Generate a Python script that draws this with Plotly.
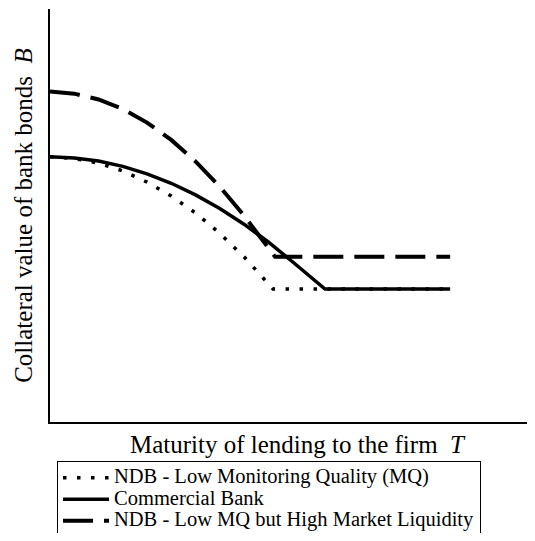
import plotly.graph_objects as go

# Data (arbitrary units)
x_dotted = [0, 0.5, 1, 1.5, 2, 2.5, 3, 3.5, 4, 4.5, 4.6, 8.25]
y_dotted = [6.42, 6.38, 6.27, 6.08, 5.81, 5.47, 5.06, 4.57, 4.00, 3.36, 3.22, 3.22]

x_solid = [0, 0.5, 1, 1.5, 2, 2.5, 3, 3.5, 4, 4.5, 5, 5.67, 8.25]
y_solid = [6.42, 6.39, 6.32, 6.19, 6.01, 5.78, 5.50, 5.17, 4.79, 4.36, 3.88, 3.22, 3.22]

x_dashed = [0, 0.5, 1, 1.5, 2, 2.5, 3, 3.5, 4, 4.5, 4.64, 8.25]
y_dashed = [8.00, 7.95, 7.81, 7.58, 7.25, 6.83, 6.31, 5.70, 5.00, 4.20, 4.00, 4.00]

names = ["NDB - Low Monitoring Quality (MQ)",
         "Commercial Bank",
         "NDB - Low MQ but High Market Liquidity"]

x_title = "Maturity of lending to the firm\u00a0\u00a0<i>T</i>"
y_title = "Collateral value of bank bonds\u00a0\u00a0<i>B</i>"

FONT = "Liberation Serif"


def leg(txt):
    return "<span style='font-size:20.5px'>" + txt + "</span>"


fig = go.Figure()
fig.add_trace(go.Scatter(x=x_dotted, y=y_dotted, mode="lines", name=leg(names[0]),
                         line=dict(color="black", width=3.5, dash="3.5px,10.5px")))
fig.add_trace(go.Scatter(x=x_solid, y=y_solid, mode="lines", name=leg(names[1]),
                         line=dict(color="black", width=3.5)))
fig.add_trace(go.Scatter(x=x_dashed, y=y_dashed, mode="lines", name=leg(names[2]),
                         line=dict(color="black", width=4, dash="30px,11px")))

# the page adds an 8px body margin, so the figure is 519x525
fig.update_layout(
    width=519, height=525,
    margin=dict(l=42, r=0, t=1, b=111, autoexpand=False),
    paper_bgcolor="white", plot_bgcolor="white",
    font=dict(family=FONT, color="black"),
    showlegend=True,
    legend=dict(
        x=0.0147, xanchor="left", y=-0.0944, yanchor="top",
        bgcolor="white", bordercolor="black", borderwidth=1,
        font=dict(family=FONT, size=14.2, color="black"),
        itemwidth=46,
    ),
    annotations=[dict(text=x_title, xref="paper", yref="paper",
                      x=0.52, xanchor="center", y=-0.017, yanchor="top",
                      showarrow=False,
                      font=dict(family=FONT, size=25, color="black"))],
)
fig.update_xaxes(range=[0, 9.835], showline=True, linecolor="black", linewidth=2,
                 showgrid=False, zeroline=False, showticklabels=False, ticks="",
                 automargin=False)
fig.update_yaxes(range=[0, 10], showline=True, linecolor="black", linewidth=2,
                 showgrid=False, zeroline=False, showticklabels=False, ticks="",
                 automargin=False,
                 title=dict(text=y_title,
                            font=dict(family=FONT, size=25, color="black"), standoff=8))

fig.write_html("out.html")
